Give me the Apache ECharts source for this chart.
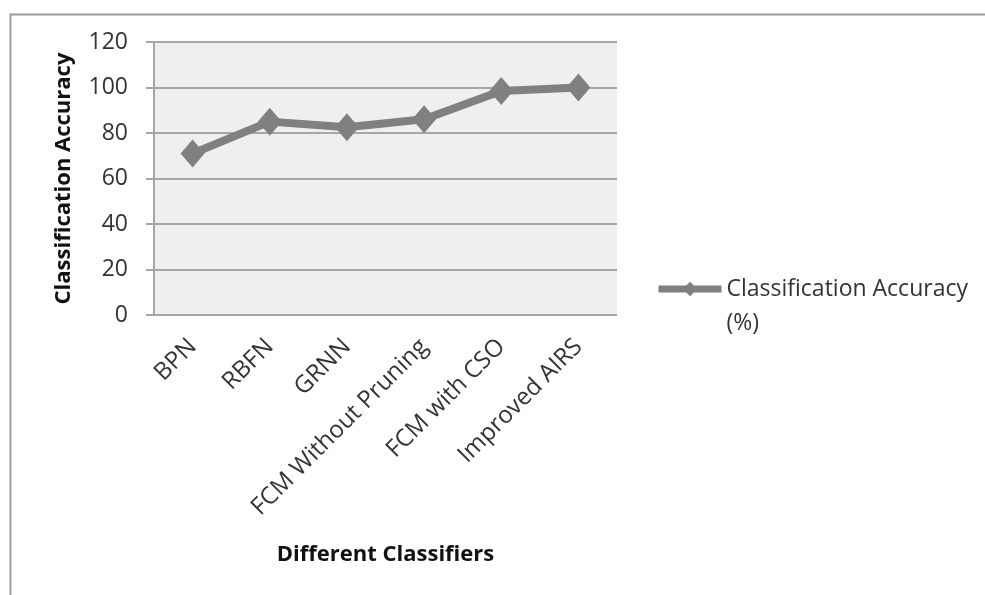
<!DOCTYPE html>
<html>
<head>
<meta charset="utf-8">
<script src="https://cdn.jsdelivr.net/npm/echarts@6/dist/echarts.min.js"></script>
<style>html,body{margin:0;padding:0;background:#fff;}#c{width:985px;height:595px;}</style>
</head>
<body>
<div id="c"></div>
<script>
const categories = ['BPN', 'RBFN', 'GRNN', 'FCM Without Pruning', 'FCM with CSO', 'Improved AIRS'];
const accuracy = [71, 85, 82.5, 86, 98.5, 100];
const seriesName = 'Classification Accuracy (%)';
const yTicks = { min: 0, max: 120, interval: 20 };

const FONT = 'Open Sans';
const chart = echarts.init(document.getElementById('c'));
chart.setOption({
  animation: false,
  backgroundColor: '#ffffff',
  graphic: [{
    type: 'rect', left: 8, top: 12,
    shape: { width: 1000, height: 600 },
    style: { fill: 'none', stroke: '#9a9a9a', lineWidth: 2 }
  }],
  grid: {
    left: 154, right: 368, top: 42, bottom: 280,
    show: true, backgroundColor: '#efefef', borderWidth: 0
  },
  legend: {
    left: 655, top: 238, padding: 0,
    itemWidth: 63, itemHeight: 18, itemGap: 0,
    formatter: () => '\nClassification Accuracy\n(%)',
    lineStyle: { width: 7, color: '#808080' },
    itemStyle: { color: '#808080' },
    textStyle: { fontFamily: FONT, fontSize: 23, color: '#333333', lineHeight: 34 },
    data: [seriesName]
  },
  xAxis: {
    type: 'category', data: categories, boundaryGap: true,
    name: 'Different Classifiers', nameLocation: 'middle', nameGap: 229,
    nameTextStyle: { fontFamily: FONT, fontSize: 22, fontWeight: 'bold', color: '#111111' },
    axisLine: { show: false },
    axisTick: { show: false },
    axisLabel: { rotate: 45, margin: 28, interval: 0, fontFamily: FONT, fontSize: 24, color: '#333333' }
  },
  yAxis: {
    type: 'value', min: yTicks.min, max: yTicks.max, interval: yTicks.interval,
    name: 'Classification Accuracy', nameLocation: 'middle', nameGap: 79,
    nameTextStyle: { fontFamily: FONT, fontSize: 22, fontWeight: 'bold', color: '#111111' },
    axisLine: { show: true, lineStyle: { color: '#a6a6a6', width: 2 } },
    axisTick: { show: true, length: 8, lineStyle: { color: '#a6a6a6', width: 2 } },
    axisLabel: { margin: 26, fontFamily: FONT, fontSize: 23, color: '#333333' },
    splitLine: { show: true, lineStyle: { color: '#a6a6a6', width: 2 } }
  },
  series: [{
    name: seriesName, type: 'line', data: accuracy,
    symbol: 'diamond', symbolSize: [24, 28],
    lineStyle: { color: '#808080', width: 8 },
    itemStyle: { color: '#808080' }
  }]
});
</script>
</body>
</html>
